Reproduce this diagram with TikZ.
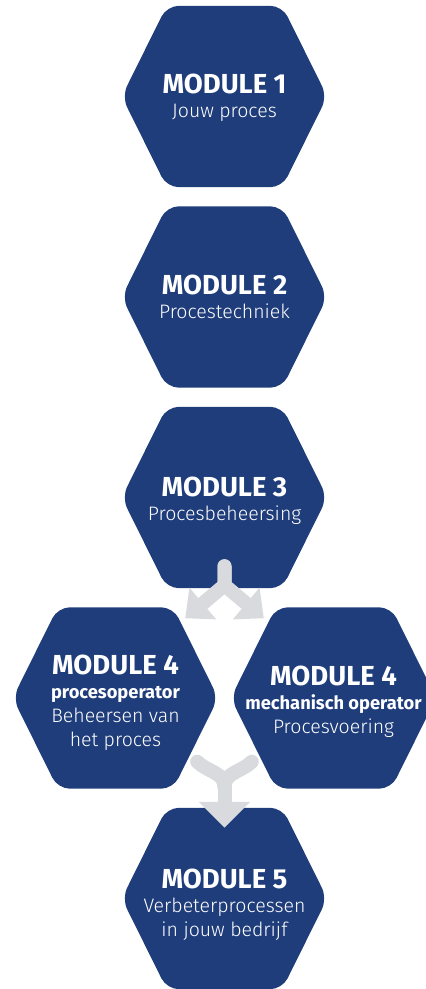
\documentclass[tikz,border=0pt]{standalone}
\usepackage{fontspec}
\setmainfont{Fira Sans}[UprightFont=* Light,BoldFont=* Bold]
\usetikzlibrary{arrows.meta}
\definecolor{modblue}{RGB}{31,61,123}
\definecolor{arrowgray}{RGB}{217,218,222}
\newcommand{\modhead}{\fontsize{27.5}{24}\selectfont\bfseries}
\newcommand{\modrole}{\fontsize{18.3}{24}\selectfont\bfseries}
\tikzset{
  hexmod/.style={minimum width=205pt,minimum height=181pt,inner sep=0pt},
  hexfill/.style={fill=modblue,rounded corners=12pt},
  modlabel/.style={text=white,align=center,font=\fontsize{19.5}{24}\selectfont},
  flow/.style={draw=arrowgray,line width=14pt,line cap=round,line join=round},
}
\begin{document}
\begin{tikzpicture}[x=1pt,y=1pt]
  \useasboundingbox (0,0) rectangle (426,-989);
  % module hexagons
  \node[hexmod] (m1)  at (224.5,-96.5) {};
  \node[hexmod] (m2)  at (224.5,-297) {};
  \node[hexmod] (m3)  at (224.5,-497.5) {};
  \node[hexmod] (m4l) at (115.5,-698) {};
  \node[hexmod] (m4r) at (333.5,-698) {};
  \node[hexmod] (m5)  at (224.5,-898.5) {};
  \foreach \m in {m1,m2,m3,m4l,m4r,m5}
    \fill[hexfill] (\m.north) -- ([xshift=-45pt]\m.north east) -- (\m.east)
      -- ([xshift=-45pt]\m.south east) -- ([xshift=45pt]\m.south west)
      -- (\m.west) -- ([xshift=45pt]\m.north west) -- cycle;
  % labels
  \node[modlabel] (t1)  at ([yshift=-1.5pt]m1.center) {{\modhead MODULE 1}\\Jouw proces};
  \node[modlabel] (t2)  at (m2.center) {{\modhead MODULE 2}\\Procestechniek};
  \node[modlabel] (t3)  at ([yshift=-3.5pt]m3.center) {{\modhead MODULE 3}\\Procesbeheersing};
  \node[modlabel] (t4l) at ([yshift=-4.5pt]m4l.center)
    {{\modhead MODULE 4}\\{\modrole procesoperator}\\Beheersen van\\het proces};
  \node[modlabel] (t4r) at ([yshift=-4pt]m4r.center)
    {{\modhead MODULE 4}\\{\modrole mechanisch operator}\\Procesvoering};
  \node[modlabel] (t5)  at ([yshift=-6pt]m5.center)
    {{\modhead MODULE 5}\\Verbeterprocessen\\in jouw bedrijf};
  % split arrow
  \coordinate (fork) at ([yshift=3pt]m3.south);
  \draw[flow,-{Triangle[width=40pt,length=23pt]}] ([yshift=22pt]m3.south) -- (fork)
    -- ([shift={(-33pt,-11pt)}]m4l.north east);
  \draw[flow,-{Triangle[width=40pt,length=23pt]}] ([yshift=22pt]m3.south) -- (fork)
    -- ([shift={(33pt,-11pt)}]m4r.north west);
  % merge arrow
  \coordinate (join) at ([yshift=21pt]m5.north);
  \draw[flow] ([shift={(-21pt,27pt)}]m4l.south east) to[out=-45,in=90] (join);
  \draw[flow] ([shift={(21pt,27pt)}]m4r.south west) to[out=-135,in=90] (join);
  \draw[flow,-{Triangle[width=50pt,length=26pt]}] (join) -- ([yshift=-20pt]m5.north);
\end{tikzpicture}
\end{document}
